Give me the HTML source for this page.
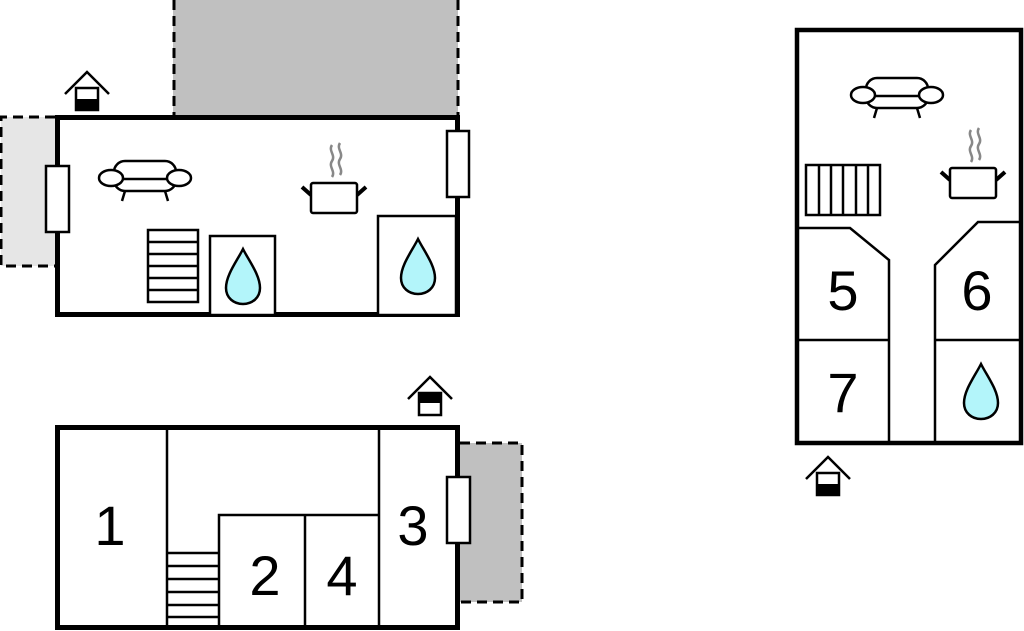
<!DOCTYPE html>
<html><head><meta charset="utf-8"><style>
html,body{margin:0;padding:0;background:#fff;}
svg{display:block;}
text{font-family:"Liberation Sans",sans-serif;font-size:56px;fill:#000;text-anchor:middle;}
</style></head><body>
<svg width="1024" height="631" viewBox="0 0 1024 631" xmlns="http://www.w3.org/2000/svg">
<defs>
  <g id="drop"><path d="M0,-28 C6,-16 17,-2 17,11 C17,21 9,27 0,27 C-9,27 -17,21 -17,11 C-17,-2 -6,-16 0,-28 Z" fill="#b3f5fa" stroke="#000" stroke-width="2.5"/></g>
  <g id="sofa" fill="#fff" stroke="#000" stroke-width="2.5">
    <line x1="-20" y1="16" x2="-23" y2="26"/><line x1="20" y1="16" x2="23" y2="26"/>
    <rect x="-31" y="-14" width="62" height="30" rx="11"/>
    <line x1="-33" y1="4" x2="33" y2="4"/>
    <ellipse cx="-34" cy="3" rx="12" ry="8"/><ellipse cx="34" cy="3" rx="12" ry="8"/>
  </g>
  <g id="pot">
    <path d="M-2,-48 c-4,6 4,10 0,16 c-4,6 4,10 0,16 M6,-50 c-4,6 4,10 0,16 c-4,6 4,10 0,16" fill="none" stroke="#888" stroke-width="2.5"/>
    <line x1="-32" y1="-6" x2="-23" y2="2" stroke="#000" stroke-width="4"/>
    <line x1="32" y1="-6" x2="23" y2="2" stroke="#000" stroke-width="4"/>
    <rect x="-23" y="-10" width="46" height="30" rx="2" fill="#fff" stroke="#000" stroke-width="2.5"/>
  </g>
  <g id="house">
    <polyline points="-22,22 0,0 22,22" fill="none" stroke="#000" stroke-width="2.5"/>
    <rect x="-11" y="16" width="22" height="22" fill="#fff" stroke="#000" stroke-width="2.5"/>
    <rect x="-11" y="27" width="22" height="11" fill="#000"/>
  </g>
  <g id="house2">
    <polyline points="-22,22 0,0 22,22" fill="none" stroke="#000" stroke-width="2.5"/>
    <rect x="-11" y="16" width="22" height="22" fill="#fff" stroke="#000" stroke-width="2.5"/>
    <rect x="-11" y="16" width="22" height="10" fill="#000"/>
  </g>
</defs>

<rect x="173" y="-5" width="285" height="120" fill="#c0c0c0"/>
<line x1="174" y1="0" x2="174" y2="115" stroke="#000" stroke-width="3" stroke-dasharray="10,6"/>
<line x1="458" y1="0" x2="458" y2="115" stroke="#000" stroke-width="3" stroke-dasharray="10,6"/>
<rect x="1" y="117" width="54" height="149" fill="#e6e6e6"/>
<polyline points="55,117 1,117 1,266 55,266" fill="none" stroke="#000" stroke-width="3" stroke-dasharray="10,6"/>
<rect x="57.5" y="117.5" width="400" height="197" fill="#fff" stroke="#000" stroke-width="5"/>
<rect x="46" y="166" width="23" height="66" fill="#fff" stroke="#000" stroke-width="2.5"/>
<rect x="447" y="131" width="22" height="66" fill="#fff" stroke="#000" stroke-width="2.5"/>
<g fill="#fff" stroke="#000" stroke-width="2.5">
  <rect x="148" y="230" width="50" height="72"/>
  <rect x="210" y="236" width="65" height="79"/>
  <rect x="378" y="216" width="78" height="99"/>
</g>
<g stroke="#000" stroke-width="2.5">
  <line x1="148" y1="242" x2="198" y2="242"/><line x1="148" y1="254" x2="198" y2="254"/>
  <line x1="148" y1="266" x2="198" y2="266"/><line x1="148" y1="278" x2="198" y2="278"/>
  <line x1="148" y1="290" x2="198" y2="290"/>
</g>
<use href="#drop" x="243" y="277"/>
<use href="#drop" x="418" y="267"/>
<use href="#sofa" x="145" y="175"/>
<use href="#pot" x="334" y="193"/>
<use href="#house" x="87" y="72"/>

<rect x="460" y="443" width="62" height="159" fill="#c0c0c0"/>
<polyline points="460,443 522,443 522,602 460,602" fill="none" stroke="#000" stroke-width="3" stroke-dasharray="10,6"/>
<rect x="57.5" y="427.5" width="400" height="200" fill="#fff" stroke="#000" stroke-width="5"/>
<g stroke="#000" stroke-width="2.5" fill="none">
  <line x1="167" y1="428" x2="167" y2="627"/>
  <line x1="379" y1="428" x2="379" y2="627"/>
  <polyline points="219,627 219,515 379,515"/>
  <line x1="305" y1="515" x2="305" y2="627"/>
  <line x1="168" y1="553" x2="219" y2="553"/><line x1="168" y1="566" x2="219" y2="566"/>
  <line x1="168" y1="579" x2="219" y2="579"/><line x1="168" y1="592" x2="219" y2="592"/>
  <line x1="168" y1="605" x2="219" y2="605"/><line x1="168" y1="617" x2="219" y2="617"/>
</g>
<rect x="447" y="477" width="23" height="66" fill="#fff" stroke="#000" stroke-width="2.5"/>
<text x="110" y="545">1</text>
<text x="265" y="595">2</text>
<text x="342" y="595">4</text>
<text x="413" y="545">3</text>
<use href="#house2" x="430" y="377"/>

<rect x="797" y="30" width="224" height="413" fill="#fff" stroke="#000" stroke-width="4.5"/>
<g stroke="#000" stroke-width="2.5" fill="none">
  <polyline points="797,228 850,228 889,260 889,441"/>
  <line x1="797" y1="340" x2="889" y2="340"/>
  <polyline points="935,441 935,265 978,222 1021,222"/>
  <line x1="935" y1="340" x2="1021" y2="340"/>
  <rect x="806" y="165" width="74" height="50" fill="#fff"/>
  <line x1="819" y1="165" x2="819" y2="215"/><line x1="831" y1="165" x2="831" y2="215"/>
  <line x1="843" y1="165" x2="843" y2="215"/><line x1="856" y1="165" x2="856" y2="215"/>
  <line x1="868" y1="165" x2="868" y2="215"/>
</g>
<text x="843" y="310">5</text>
<text x="977" y="310">6</text>
<text x="843" y="412">7</text>
<use href="#drop" x="981" y="392"/>
<use href="#sofa" x="897" y="92"/>
<use href="#pot" x="973" y="178"/>
<use href="#house" x="828" y="457"/>
</svg>
</body></html>
